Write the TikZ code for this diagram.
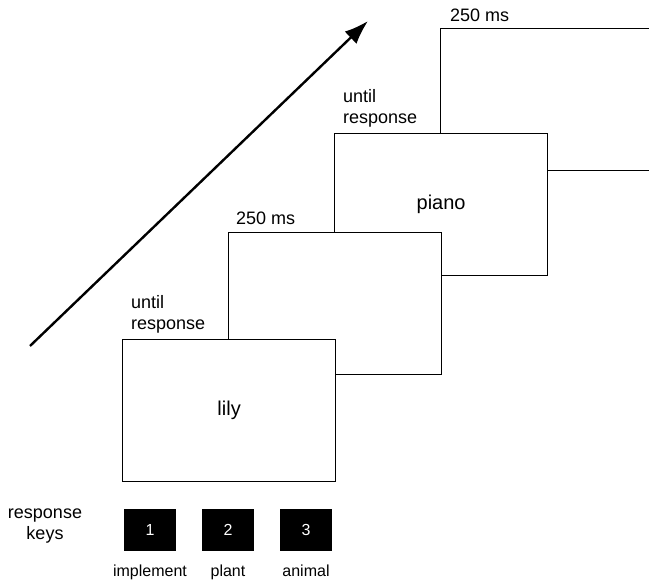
\documentclass[tikz,border=0pt]{standalone}
\usepackage{fontspec}
\setmainfont{Liberation Sans}
\usetikzlibrary{positioning,arrows.meta}

\begin{document}
\begin{tikzpicture}[
    x=1pt, y=1pt,
    node distance=78pt,
    frame/.style={draw, fill=white, line width=1.3pt, minimum width=213pt,
      minimum height=142pt, inner sep=0pt, anchor=north west,
      font=\fontsize{20}{24}\selectfont},
    timing/.style={inner sep=0pt, align=left, font=\fontsize{18}{21}\selectfont},
    key/.style={fill=black, text=white, minimum width=52pt, minimum height=42pt,
      inner sep=0pt, font=\fontsize{16}{19}\selectfont},
    keylabel/.style={inner sep=0pt, font=\fontsize{16}{19}\selectfont},
    >={Latex[length=24pt,width=17pt]}
  ]
  \clip (0,0) rectangle (649,585);
  % time arrow
  \coordinate (t0) at (30,239);
  \coordinate (t1) at (368,564);
  \draw[->, line width=2.4pt] (t0) -- (t1);
  % screens, back to front
  \node[frame] (F4) at (440,557) {};
  \node[frame] (F3) at (334,452) {piano};
  \node[frame] (F2) at (228,353) {};
  \node[frame] (F1) at (122,246) {lily};
  \node[timing, above right=6pt and 9pt of F1.north west] (T1) {until\\response};
  \node[timing, above right=7pt and 8pt of F2.north west] (T2) {250 ms};
  \node[timing, above right=6pt and 9pt of F3.north west] (T3) {until\\response};
  \node[timing, above right=6pt and 10pt of F4.north west] (T4) {250 ms};
  % response keys
  \node[timing, align=center] (RK) at (45,59) {response\\keys};
  \node[key] (K1) at (150,55) {1};
  \node[key, right of=K1] (K2) {2};
  \node[key, right of=K2] (K3) {3};
  \node[keylabel, below=14pt of K1] (L1) {implement};
  \node[keylabel, below=14pt of K2] (L2) {plant};
  \node[keylabel, below=14pt of K3] (L3) {animal};
\end{tikzpicture}
\end{document}
